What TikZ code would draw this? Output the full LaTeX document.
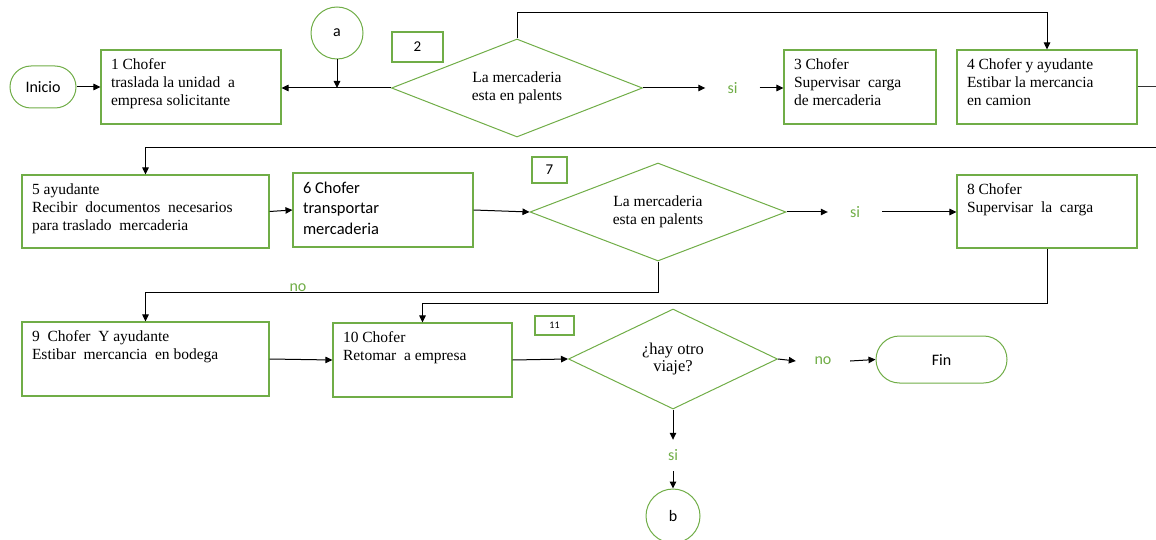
\documentclass[tikz,border=0pt]{standalone}
\usepackage{fontspec}
\setmainfont{Liberation Serif}
\newfontfamily\sansf{Carlito}
\usetikzlibrary{shapes.geometric,arrows.meta}
\definecolor{grn}{HTML}{70AD47}
\tikzset{
  procbox/.style={draw=grn, line width=1.1pt, inner xsep=10pt, inner ysep=0pt,
    font=\fontsize{15.5}{18}\selectfont},
  dec/.style={diamond, draw=grn, line width=1pt, inner sep=0pt, align=center,
    font=\fontsize{15.5}{18.5}\selectfont},
  numbox/.style={draw=grn, line width=1.1pt, inner sep=0pt, font=\sansf\fontsize{15}{18}\selectfont},
  term/.style={draw=grn, line width=1pt, inner sep=0pt, font=\sansf\fontsize{16}{19}\selectfont},
  conn/.style={circle, draw=grn, line width=1pt, inner sep=0pt, font=\sansf\fontsize{16}{19}\selectfont},
  lab/.style={text=grn, font=\sansf\fontsize{16}{19}\selectfont, minimum width=54pt,
    minimum height=30pt, inner sep=0pt},
  arr/.style={line width=1pt, draw=black, -{Triangle[length=7pt,width=6.5pt]}},
  ln/.style={line width=1pt, draw=black!80},
}
\newcommand\procnode[5]{\node[procbox] (#1) at (#2) {\parbox[c][#4pt][t]{\dimexpr#3pt-20pt\relax}{\vspace*{9pt}#5}};}
\begin{document}
\begin{tikzpicture}[x=1pt,y=-1pt]
\useasboundingbox (0,0) rectangle (1156,540);
% terminals and connectors
\node[term, minimum width=66pt, minimum height=42pt, rounded corners=21pt] (ini) at (43,87) {Inicio};
\node[term, minimum width=131pt, minimum height=47pt, rounded corners=23.5pt] (fin) at (941.5,359.5) {Fin};
\node[conn, minimum size=52pt] (ca) at (337,33) {a};
\node[conn, minimum size=54pt] (cb) at (673,516) {b};
% process boxes
\procnode{b1}{191,87}{180}{74}{1 Chofer\\traslada la unidad\ \ a\\empresa solicitante}
\procnode{b3}{860,87}{152}{74}{3 Chofer\\Supervisar\ \ carga\\de mercaderia}
\procnode{b4}{1047,87}{180}{74}{4 Chofer\ y ayudante\\Estibar\ la\ mercancia\\en camion}
\procnode{b5}{145.5,211.5}{247}{73}{5 ayudante\\Recibir\ \ documentos\ \ necesarios\\para traslado\ \ mercaderia}
\procnode{b6}{383,210}{180}{74}{\sansf\fontsize{16.5}{20.5}\selectfont 6 Chofer\\transportar\\mercaderia}
\procnode{b8}{1047,211.5}{180}{73}{8 Chofer\\Supervisar\ \ la\ \ carga}
\procnode{b9}{145.5,359}{247}{74}{9\ \ Chofer\ \ Y ayudante\\Estibar\ \ mercancia\ \ en bodega}
\procnode{b10}{422.5,360}{179}{74}{10 Chofer\\Retomar\ \ a empresa}
% decisions
\node[dec, aspect=2.56, minimum width=251pt, minimum height=98pt] (d2) at (517,88) {La\ mercaderia\\esta\ en\ palents};
\node[dec, aspect=2.61, minimum width=256pt, minimum height=98pt] (d7) at (658,212) {La\ mercaderia\\esta\ en\ palents};
\node[dec, aspect=2.09, minimum width=209pt, minimum height=100pt, font=\fontsize{16.5}{18}\selectfont] (d11) at (673,359) {\raisebox{-6pt}{\shortstack{¿hay otro\\viaje?}}};
% number boxes
\node[numbox, minimum width=51pt, minimum height=30pt] (n2) at (417.5,47) {2};
\node[numbox, minimum width=35pt, minimum height=26pt] (n7) at (549.5,170) {7};
\node[numbox, minimum width=39pt, minimum height=19pt, font=\sansf\fontsize{10}{12}\selectfont] (n11) at (554.5,325.5) {11};
% labels
\node[lab] (si1) at (732.5,88) {si};
\node[lab] (si2) at (855,212) {si};
\node[lab] (no2) at (823,361) {no};
\node[lab, minimum height=31pt] (si3) at (673,455.5) {si};
\node[lab, minimum height=12pt] (no1) at (298,288) {no};
% coordinates
\coordinate (t1) at (517,13);
\coordinate (r1) at (1165,87);
\coordinate (r2) at (1165,148);
\coordinate (m1) at (1047,303);
\coordinate (m2) at (658,292);
% connectors
\draw[arr] (ini) -- (b1);
\draw[arr] (d2.west) -- (d2.west -| b1.east);
\draw[arr] (ca.south) -- (ca.south |- d2.west);
\draw[arr] (d2.north) -- (t1) -| (b4.north);
\draw[arr] (d2.east) -- (si1.west);
\draw[arr] (si1.east) -- (si1.east -| b3.west);
\draw[ln] (b4.east) -- (r1) -- (r2);
\draw[arr] (r2) -| (b5.north);
\draw[arr] (b5.east) -- (b6.west);
\draw[arr] (b6.east) -- (d7.west);
\draw[arr] (d7.east) -- (si2.west);
\draw[arr] (si2.east) -- (si2.east -| b8.west);
\draw[arr] (d7.south) -- (m2) -| (b9.north);
\draw[arr] (b8.south) -- (m1) -| (b10.north);
\draw[arr] (b9.east) -- (b10.west);
\draw[arr] (b10.east) -- (d11.west);
\draw[arr] (d11.east) -- (no2.west);
\draw[arr] (no2.east) -- (fin.west);
\draw[arr] (d11.south) -- (si3.north);
\draw[arr] (si3.south) -- (cb.north);
\end{tikzpicture}
\end{document}
